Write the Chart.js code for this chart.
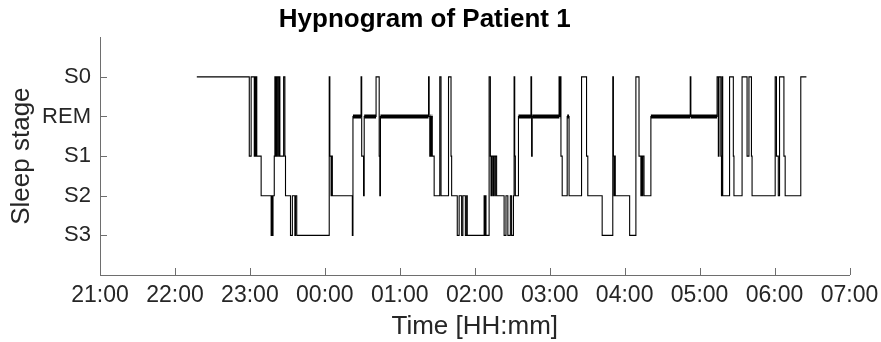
<!DOCTYPE html>
<html>
<head>
<meta charset="utf-8">
<script src="https://cdn.jsdelivr.net/npm/chart.js@4"></script>
<style>
html, body { margin: 0; padding: 0; background: #fff; }
#wrap { width: 881px; height: 342px; }
</style>
</head>
<body>
<div id="wrap"><canvas id="hypnoChart"></canvas></div>
<script>
// y-axis categories, bottom to top
const stageLabels = ['S3', 'S2', 'S1', 'REM', 'S0'];
// x-axis ticks, one per hour from 21:00
const hourTicks = ['21:00', '22:00', '23:00', '00:00', '01:00', '02:00',
                   '03:00', '04:00', '05:00', '06:00', '07:00'];

// stage changes: minutes after 21:00, and the stage that starts there
const epochMinutes = [
    77.5, 119.5, 121, 123.5, 124, 124.5, 125, 125.5, 129, 137,
    137.5, 138, 138.5, 139.5, 140, 140.5, 141, 141.5, 142, 143,
    143.5, 144, 147, 148, 148.5, 152.5, 154, 156, 156.5, 157.5,
    183.5, 184, 185, 185.5, 186, 202, 202.5, 209, 209.5, 211,
    211.5, 221, 223.5, 224, 224.5, 263, 263.5, 264, 264.5, 265,
    265.5, 266, 267.5, 272, 273, 279, 281, 281.5, 286, 287.5,
    289.5, 290.5, 292.5, 293.5, 294, 307.5, 308, 308.5, 309, 311.5,
    312.5, 313, 313.5, 314.5, 315, 316, 316.5, 317.5, 323.5, 325,
    326.5, 328.5, 329.5, 331, 331.5, 332, 332.5, 335, 345, 345.5,
    346, 367.5, 368, 368.5, 369, 370, 374, 375.5, 385.5, 389.5,
    390.5, 402, 410.5, 411, 411.5, 412, 412.5, 424, 429, 431.5,
    433, 433.5, 434, 434.5, 435.5, 441, 472.5, 473, 494, 495,
    495.5, 497, 497.5, 498, 498.5, 504, 507, 507.5, 514, 518,
    519.5, 521.5, 522, 540.5, 541.5, 543, 544, 547.5, 548.5, 561,
    565.5
];
const stages = [
    'S0', 'S1', 'S0', 'S1', 'S0', 'S1', 'S0', 'S1', 'S2', 'S3',
    'S2', 'S3', 'S2', 'S1', 'S0', 'S1', 'S0', 'S1', 'S0', 'S1',
    'S0', 'S1', 'S0', 'S1', 'S2', 'S3', 'S2', 'S3', 'S2', 'S3',
    'S0', 'S1', 'S2', 'S1', 'S2', 'S3', 'REM', 'S0', 'S1', 'S2',
    'REM', 'S0', 'S1', 'S2', 'REM', 'S0', 'REM', 'S1', 'REM', 'S1',
    'REM', 'S1', 'S2', 'S0', 'S2', 'S0', 'S1', 'S2', 'S3', 'S2',
    'S3', 'S2', 'S3', 'S2', 'S3', 'S2', 'S3', 'S2', 'S3', 'S0',
    'S1', 'S2', 'S1', 'S2', 'S1', 'S2', 'S1', 'S2', 'S3', 'S2',
    'S3', 'S2', 'S3', 'S2', 'S0', 'S1', 'S2', 'REM', 'S0', 'S1',
    'REM', 'S0', 'REM', 'S0', 'S1', 'S2', 'REM', 'S2', 'S0', 'S1',
    'S2', 'S3', 'S0', 'S1', 'S2', 'S1', 'S2', 'S3', 'S0', 'S1',
    'S2', 'S1', 'S2', 'S1', 'S2', 'REM', 'S0', 'REM', 'S0', 'S1',
    'S0', 'S1', 'S2', 'S0', 'S2', 'S0', 'S1', 'S2', 'S0', 'S1',
    'S0', 'S1', 'S2', 'S0', 'S1', 'S2', 'S0', 'S1', 'S2', 'S0',
    'S0'
];

const axisColor = '#6e6e6e';
const textColor = '#262626';
Chart.defaults.font.family = "'Liberation Sans', Arial, Helvetica, sans-serif";

const stagePoints = epochMinutes.map((m, i) => ({ x: m, y: stageLabels.indexOf(stages[i]) + 1 }));

// REM stretches are drawn again with a bold line
const remPoints = [];
stages.forEach((s, i) => {
    if (s !== 'REM' || i === stages.length - 1) return;
    remPoints.push({ x: epochMinutes[i], y: 4 }, { x: epochMinutes[i + 1], y: 4 }, { x: epochMinutes[i + 1], y: null });
});

// MATLAB style ticks pointing into the plot
const inwardTicks = {
    id: 'inwardTicks',
    afterDraw(chart) {
        const { ctx, scales: { x, y } } = chart;
        ctx.save();
        ctx.strokeStyle = axisColor;
        ctx.lineWidth = 1;
        ctx.beginPath();
        x.ticks.forEach(t => {
            const px = Math.round(x.getPixelForValue(t.value)) + 0.5;
            ctx.moveTo(px, y.bottom);
            ctx.lineTo(px, y.bottom - 7);
        });
        y.ticks.forEach(t => {
            if (t.value < 1 || t.value > 5) return;
            const py = Math.round(y.getPixelForValue(t.value)) + 0.5;
            ctx.moveTo(x.left, py);
            ctx.lineTo(x.left + 7, py);
        });
        ctx.stroke();
        ctx.restore();
    }
};

const ctx = document.getElementById('hypnoChart').getContext('2d');
new Chart(ctx, {
    type: 'line',
    data: {
        datasets: [{
            label: 'Stage',
            data: stagePoints,
            stepped: true,
            borderColor: '#000',
            borderWidth: 1.1,
            pointRadius: 0,
            fill: false
        }, {
            label: 'REM',
            data: remPoints,
            borderColor: '#000',
            borderWidth: 4,
            borderCapStyle: 'butt',
            pointRadius: 0,
            spanGaps: false,
            fill: false
        }]
    },
    options: {
        responsive: true,
        maintainAspectRatio: false,
        animation: false,
        layout: { padding: { left: 0, right: 31.5, top: 0, bottom: 0 } },
        plugins: {
            legend: { display: false },
            tooltip: { enabled: false },
            title: {
                display: true,
                text: 'Hypnogram of Patient 1',
                color: '#000',
                font: { size: 26, weight: 'bold' },
                padding: { top: 4, bottom: 2 }
            }
        },
        scales: {
            x: {
                type: 'linear',
                min: 0,
                max: 600,
                afterFit: s => { s.height = 67; s.paddingLeft = 0; s.paddingRight = 0; },
                ticks: {
                    stepSize: 60,
                    autoSkip: false,
                    maxRotation: 0,
                    padding: 7,
                    color: textColor,
                    font: { size: 23 },
                    callback: v => hourTicks[v / 60]
                },
                grid: { display: false, drawTicks: false },
                border: { display: true, color: axisColor, width: 1 },
                title: {
                    display: true,
                    text: 'Time [HH:mm]',
                    color: textColor,
                    font: { size: 26 },
                    padding: { top: 0, bottom: 0 }
                }
            },
            y: {
                type: 'linear',
                min: 0,
                max: 6,
                afterFit: s => { s.width = 100; },
                ticks: {
                    stepSize: 1,
                    padding: 9,
                    color: textColor,
                    font: { size: 22 },
                    callback: v => stageLabels[v - 1] || ''
                },
                grid: { display: false, drawTicks: false },
                border: { display: true, color: axisColor, width: 1 },
                title: {
                    display: true,
                    text: 'Sleep stage',
                    color: textColor,
                    font: { size: 26 },
                    padding: { top: 6, bottom: 0 }
                }
            }
        }
    },
    plugins: [inwardTicks]
});
</script>
</body>
</html>
